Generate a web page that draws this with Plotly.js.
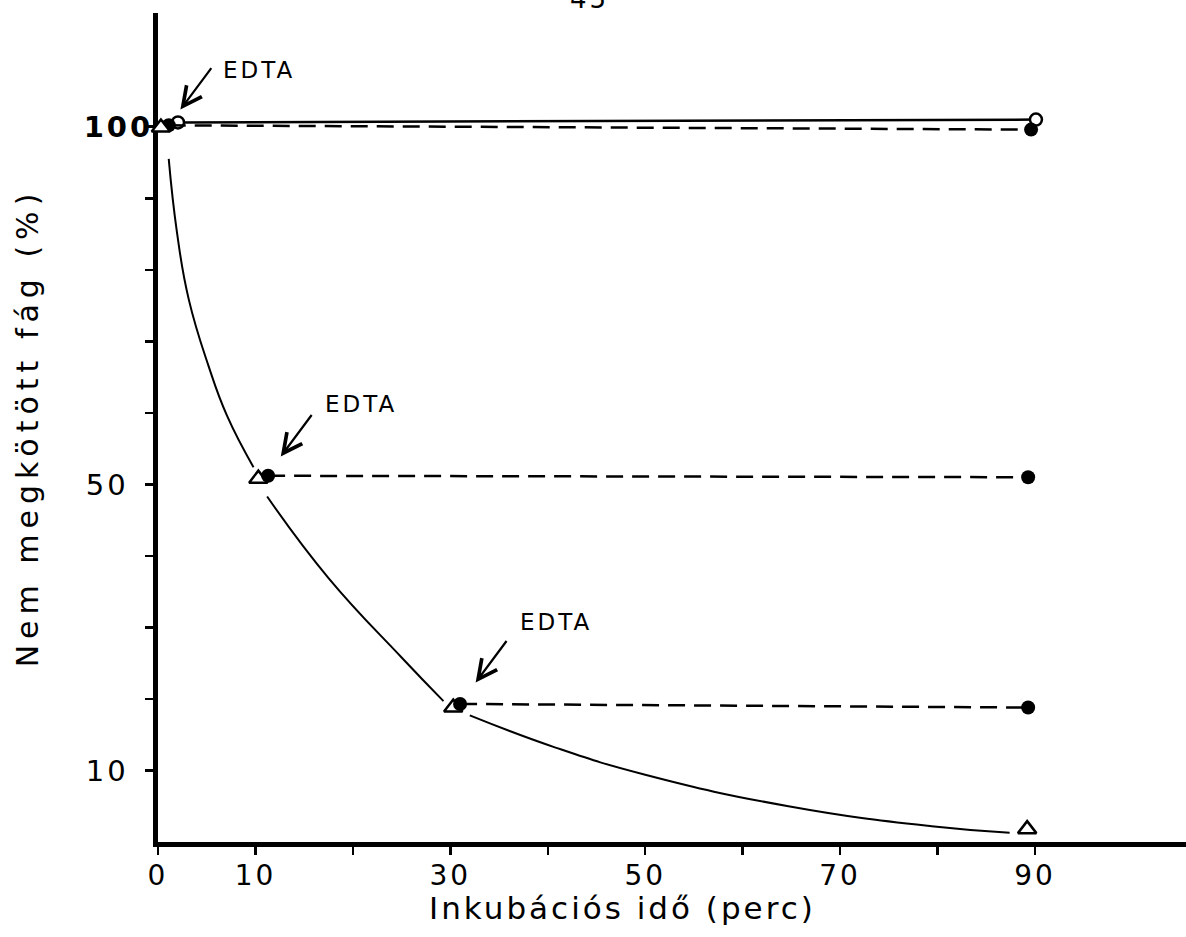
<!DOCTYPE html>
<html>
<head>
<meta charset="utf-8">
<script src="https://cdn.plot.ly/plotly-3.0.1.min.js"></script>
<style>
  html, body { margin: 0; padding: 0; background: #ffffff; }
  #chart { width: 1186px; height: 937px; }
  .xtick text, .ytick text { letter-spacing: 3px; }
  text.ytitle { letter-spacing: 6px; }
  text.annotation-text { letter-spacing: 3px; }
</style>
</head>
<body>
<div id="chart"></div>
<script>
// ---- data ----
// incubation time (min) / unbound phage (%)
const curveX = [1.1, 1.95, 3.15, 5.2, 7.08, 9.8, null, 11.2, 17.5, 25, 29.3, null, 32, 40.8, 50, 64.7, 79.4, 87.4];
const curveY = [95.5, 85.2, 75.9, 66.5, 59.6, 52.4, null, 48.3, 36.9, 25.8, 19.7, null, 17.7, 13.2, 9.4, 5.0, 2.2, 1.3];

const triangleX = [0.3, 10.3, 30.3, 89.2];
const triangleY = [99.9, 50.8, 18.8, 1.8];

const controlX = [2.05, 90.1];
const controlY = [100.6, 101.0];

const edta0X = [1.1, 89.6];
const edta0Y = [100.2, 99.6];
const edta10X = [11.3, 89.3];
const edta10Y = [51.2, 51.0];
const edta30X = [31.0, 89.3];
const edta30Y = [19.3, 18.8];

const xTickVals = [0, 10, 20, 30, 40, 50, 60, 70, 80, 90];
const xTickText = ['0', '10', '', '30', '', '50', '', '70', '', '90'];
const yTickVals = [10, 20, 30, 40, 50, 60, 70, 80, 90, 100];
const yTickText = ['10\u00a0\u00a0', '', '', '', '50\u00a0\u00a0', '', '', '', '', '<b>100</b>'];

const edtaLabels = ['EDTA', 'EDTA', 'EDTA'];
const edtaLabelX = [10.4, 20.8, 40.8];
const edtaLabelY = [108.0, 61.3, 30.7];
const arrowHeadX = [2.3, 12.6, 32.6];
const arrowHeadY = [102.4, 53.9, 22.3];

const xTitle = 'Inkubációs idő (perc)';
const yTitle = 'Nem megkötött fág (%)';
const pageNumber = '45';

// ---- traces ----
const FONT = 'DejaVu Sans, Arial, sans-serif';
const traces = [
  { x: curveX, y: curveY, mode: 'lines', line: { color: '#000', width: 2, shape: 'spline', smoothing: 1.3 }, connectgaps: false, hoverinfo: 'skip' },
  { x: controlX, y: controlY, mode: 'lines+markers', line: { color: '#000', width: 2.5 },
    marker: { symbol: 'circle', size: 12, color: '#fff', line: { color: '#000', width: 2.5 } }, cliponaxis: false },
  { x: edta0X, y: edta0Y, mode: 'lines+markers', line: { color: '#000', width: 2.5, dash: '17px,9px' },
    marker: { symbol: 'circle', size: 14, color: '#000' }, cliponaxis: false },
  { x: triangleX, y: triangleY, mode: 'markers',
    marker: { symbol: 'triangle-up', size: 16, color: '#fff', line: { color: '#000', width: 2.5 } }, cliponaxis: false },
  { x: edta10X, y: edta10Y, mode: 'lines+markers', line: { color: '#000', width: 2.5, dash: '17px,9px' },
    marker: { symbol: 'circle', size: 14, color: '#000' }, cliponaxis: false },
  { x: edta30X, y: edta30Y, mode: 'lines+markers', line: { color: '#000', width: 2.5, dash: '17px,9px' },
    marker: { symbol: 'circle', size: 14, color: '#000' }, cliponaxis: false }
];

// ---- annotations ----
const annotations = [];
for (let i = 0; i < edtaLabels.length; i++) {
  annotations.push({ x: edtaLabelX[i], y: edtaLabelY[i], xref: 'x', yref: 'y', text: edtaLabels[i],
    showarrow: false, font: { family: FONT, size: 23, color: '#000' }, xanchor: 'center', yanchor: 'middle' });
  annotations.push({ x: arrowHeadX[i], y: arrowHeadY[i], xref: 'x', yref: 'y', text: '',
    showarrow: true, arrowhead: 5, arrowsize: 1.7, arrowwidth: 2.2, arrowcolor: '#000', ax: 32, ay: -43 });
}
annotations.push({ x: 0.452, y: 0, xref: 'paper', yref: 'paper', yshift: -66, text: xTitle, showarrow: false,
  font: { family: FONT, size: 31, color: '#000' }, xanchor: 'center', yanchor: 'middle' });
annotations.push({ x: 0.42, y: 1, xref: 'paper', yref: 'paper', yshift: 14, text: pageNumber, showarrow: false,
  font: { family: FONT, size: 26, color: '#000' }, xanchor: 'center', yanchor: 'middle' });

const layout = {
  width: 1186, height: 937,
  margin: { l: 158, r: 0, t: 13, b: 95 },
  paper_bgcolor: '#fff', plot_bgcolor: '#fff',
  showlegend: false,
  xaxis: {
    range: [0, 105.5], showline: true, linewidth: 5, linecolor: '#000', layer: 'below traces',
    ticks: 'outside', ticklen: 8, tickwidth: 2.5, tickcolor: '#000',
    tickmode: 'array', tickvals: xTickVals, ticktext: xTickText, ticklabelstandoff: -4,
    showgrid: false, zeroline: false,
    tickfont: { family: FONT, size: 28, color: '#000' }
  },
  yaxis: {
    range: [0, 115.9], showline: true, linewidth: 5, linecolor: '#000', layer: 'below traces',
    ticks: 'outside', ticklen: 8, tickwidth: 2.5, tickcolor: '#000',
    tickmode: 'array', tickvals: yTickVals, ticktext: yTickText, ticklabelstandoff: -14,
    showgrid: false, zeroline: false,
    tickfont: { family: FONT, size: 29, color: '#000' },
    title: { text: yTitle, font: { family: FONT, size: 30, color: '#000' }, standoff: 38 }
  },
  annotations: annotations
};

Plotly.newPlot('chart', traces, layout, { staticPlot: true, displayModeBar: false });
</script>
</body>
</html>
